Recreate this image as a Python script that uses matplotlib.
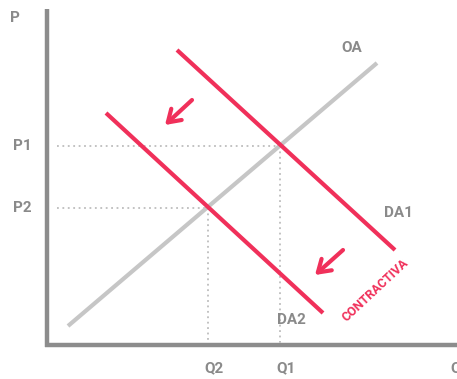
import matplotlib
matplotlib.use("Agg")
import matplotlib.pyplot as plt

# diagram coordinates: Q to the right, P upwards (origin at the axes corner)
oa_q = [21, 330]
oa_p = [19, 282]
da1_q = [130, 348]
da1_p = [295, 95]
da2_q = [59, 276]
da2_p = [232, 32]
eq_q = [233, 161]          # Q1, Q2
eq_p = [199, 137]          # P1, P2
eq_names = [("Q1", "P1"), ("Q2", "P2")]
shift_arrows = [((145, 245), (118, 220)), ((296, 95), (268, 70))]

red = "#f0305a"
grey_txt = "#8a8a8a"

plt.rcParams["font.family"] = ["Roboto", "DejaVu Sans"]
fig = plt.figure(figsize=(4.57, 3.79), dpi=100)
ax = fig.add_axes([0, 0, 1, 1])
ax.set_xlim(-47, 410)
ax.set_ylim(-34, 345)
ax.axis("off")

# axes
ax.plot([0, 0], [-2, 336], color="#8c8c8c", lw=3.2, solid_capstyle="butt")
ax.plot([-2, 410], [0, 0], color="#8c8c8c", lw=3.2, solid_capstyle="butt")

# guide lines
for q, p in zip(eq_q, eq_p):
    ax.plot([10, q], [p, p], color="#bdbdbd", lw=1.3, ls=(0, (1, 2)))
    ax.plot([q, q], [p, 2], color="#bdbdbd", lw=1.3, ls=(0, (1, 2)))

ax.plot(oa_q, oa_p, color="#c6c6c6", lw=3, solid_capstyle="butt")
ax.plot(da1_q, da1_p, color=red, lw=3, solid_capstyle="butt")
ax.plot(da2_q, da2_p, color=red, lw=3, solid_capstyle="butt")

for start, end in shift_arrows:
    ax.annotate("", xy=end, xytext=start,
                arrowprops=dict(arrowstyle="->,head_length=0.85,head_width=0.55",
                                color=red, lw=3, shrinkA=0, shrinkB=0))

kw = dict(color=grey_txt, fontsize=11, fontweight="bold", ha="center", va="center")
ax.text(-32, 327, "P", **kw)
for (qn, pn), q, p in zip(eq_names, eq_q, eq_p):
    ax.text(-25, p, pn, **kw)
    ax.text(q + 6, -23, qn, **kw)
# the Q label runs off the right edge, as in the reference
ax.text(403, -23, "Q", color=grey_txt, fontsize=11, fontweight="bold", ha="left", va="center")
ax.text(305, 297, "OA", **kw)
ax.text(351, 132, "DA1", **kw)
ax.text(244, 25, "DA2", **kw)
ax.text(328, 55, "CONTRACTIVA", color=red, fontsize=9, fontweight="bold",
        rotation=43, ha="center", va="center")

fig.savefig("out.png", dpi=100)
